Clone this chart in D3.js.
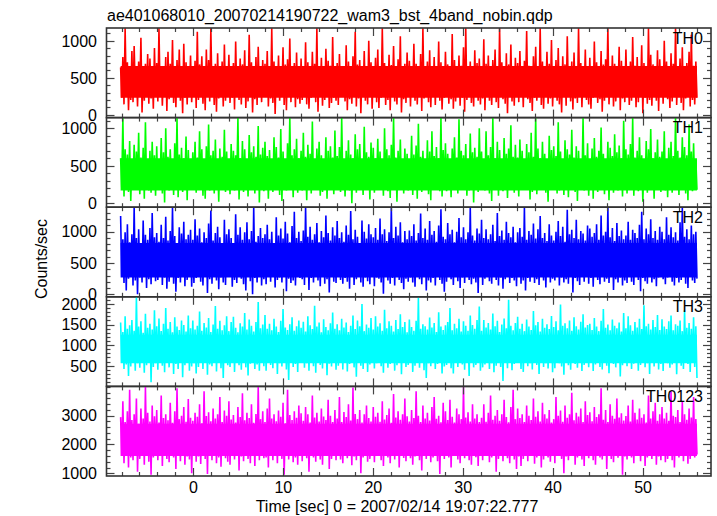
<!DOCTYPE html>
<html><head><meta charset="utf-8">
<script src="https://cdn.jsdelivr.net/npm/d3@7/dist/d3.min.js"></script>
<style>
html,body{margin:0;padding:0;background:#fff;}
svg{display:block;font-family:"Liberation Sans",Arial,sans-serif;}
</style></head>
<body><svg id="c" width="717" height="516"></svg>
<script>
const title = "ae401068010_20070214190722_wam3_bst_4band_nobin.qdp";
const xLabel = "Time [sec] 0 = 2007/02/14 19:07:22.777";
const yLabel = "Counts/sec";
const panelNames = ["TH0","TH1","TH2","TH3","TH0123"];
const panelColors = ["#ff0000","#00ff00","#0000ff","#00ffff","#ff00ff"];
const yDomains = [[-39,1172],[-52,1143],[-40,1391],[-3,2175],[906,4017]];
const yMajorTicks = [[0,500,1000],[0,500,1000],[0,500,1000],[500,1000,1500,2000],[1000,2000,3000]];
const yMinorStep = [100,100,100,100,200];
const xDomain = [-9.67,57.56];
const xMajorTicks = [0,10,20,30,40,50];
const xMinorStep = 2;
const tStart = -8.1, tEnd = 56.0;
// dense core of each light curve [low, high]
const coreBand = [[230,660],[170,600],[270,820],[560,1250],[1600,2720]];

// local peak (hi) and trough (lo) samples, alternating in time
const th0Hi = [640,780,1170,710,590,860,930,650,720,1040,580,690,820,760,610,900,
700,1170,640,560,780,850,690,1010,620,740,880,590,960,710,650,800,
570,730,1120,680,790,610,880,740,1170,600,690,830,560,720,950,640,
810,620,700,990,580,760,680,870,630,1080,710,590,780,920,650,740,
690,860,600,1170,720,640,800,570,910,680,750,1030,610,700,840,590,
760,640,980,710,580,850,690,1170,620,770,600,890,730,660,1050,580,
700,820,650,590,940,720,610,790,1120,680,740,570,860,630,1000,710,
600,770,880,640,1170,700,590,810,670,930,620,750,1060,580,690,840,
730,610,960,690,580,820,1170,650,720,870,600,780,640,990,710,560,
850,680,620,1090,740,590,800,660,910,1170,630,720,580,870,700,760,
620,1020,690,800,570,740,880,650,1170,710,600,830,680,950,590,770,
700,860,610,730,1130,660,580,790,920,640,1170,720,600,850,690,1010,
580,740,900,630,790,680,1060,600,720,840,570,1170,700,650,880,610,
770,640,990,710,590,860,680,750,1170,620,800,690,570,920,730,640,
880,600,720,1050,660,780,590,940,700,630,1170,810,680,600,870,750,
650,1000,720,590,830,690,1170,640,760,910,610,700,850,1080,660,720];
const th0Lo = [230,140,290,60,200,170,310,110,250,30,190,270,150,220,80,260,
180,300,120,240,50,210,280,160,100,260,190,20,230,140,290,170,
250,90,200,310,150,60,240,180,280,130,40,220,270,110,190,300,
160,230,70,260,200,140,300,90,180,250,30,210,130,280,170,240,
290,110,220,160,10,250,190,280,130,60,240,170,300,100,210,150,
200,260,140,80,230,300,170,40,250,120,200,280,90,160,230,190,
130,240,290,180,60,210,150,270,110,220,20,260,190,140,300,80,
250,170,90,230,280,130,200,60,260,180,140,290,30,210,160,240,
110,280,190,140,250,50,220,300,170,100,240,130,270,190,70,230,
290,150,210,80,180,260,120,230,40,200,280,160,110,250,190,140,
220,60,270,190,130,300,170,90,240,210,150,20,260,180,120,280,
170,240,100,280,210,160,50,230,190,270,130,80,300,150,220,110,
260,190,140,30,250,120,290,180,70,220,160,240,100,280,200,140,
80,230,270,160,210,40,190,300,140,250,110,180,270,60,220,170,
240,130,190,290,100,170,260,20,230,150,200,120,280,190,50,250,
150,270,210,90,180,240,130,290,160,60,220,270,110,200,140,230];

const th1Hi = [600,1140,720,650,830,560,780,690,940,610,740,1080,580,700,820,640,
760,590,870,680,1000,620,720,560,800,1140,650,740,600,890,710,570,
680,820,610,960,720,580,760,1050,640,700,850,590,730,620,980,690,
560,790,700,640,1140,600,830,720,580,910,680,760,620,1030,650,740,
820,630,710,570,880,750,610,990,690,580,800,1140,640,720,860,600,
700,940,620,780,660,1090,590,730,820,640,560,880,700,760,610,970,
630,750,1140,580,700,840,650,600,920,720,790,570,1020,680,620,810,
740,600,860,690,560,1000,720,640,780,1140,610,700,850,590,730,660,
580,900,650,770,1060,620,700,580,840,690,960,630,750,600,1140,710,
800,660,590,730,880,610,1120,700,640,790,570,930,680,740,620,1000,
690,580,960,640,750,1140,600,820,710,560,870,660,730,1040,620,780,
610,850,700,590,790,680,940,620,1140,730,600,820,660,570,900,710,
760,630,1080,690,580,840,720,650,980,610,760,700,590,1140,640,800,
580,730,870,620,700,1010,660,590,820,740,630,920,680,770,600,1100,
720,650,790,1140,610,700,880,640,570,830,720,990,600,680,850,620,
690,960,580,740,820,630,1140,700,610,880,750,640,1050,690,800,580];
const th1Lo = [210,90,260,150,30,230,180,280,120,200,60,250,170,140,270,100,
190,250,130,10,220,170,280,110,240,80,200,150,260,40,230,180,
270,140,200,250,100,60,230,170,290,130,210,20,180,260,150,220,
120,230,170,280,50,200,150,250,90,270,180,130,230,10,210,160,
250,60,220,150,270,190,110,30,240,170,260,200,80,230,140,280,
170,200,40,260,130,220,180,270,100,150,240,60,210,280,120,190,
230,150,270,90,210,170,0,250,140,200,280,110,180,230,50,260,
140,270,190,220,100,250,160,70,230,180,20,260,200,130,240,170,
280,110,230,60,190,150,270,210,120,40,250,180,230,160,90,200,
160,240,80,280,220,130,200,180,260,100,170,240,10,210,150,270,
210,170,250,130,30,230,190,100,280,160,220,70,240,180,140,260,
90,260,200,180,240,50,150,270,120,210,180,250,140,20,230,190,
250,130,170,270,110,220,80,240,190,150,30,260,200,170,280,100,
200,60,240,150,260,180,120,230,40,270,140,210,170,250,90,220,
130,280,190,100,230,160,250,20,200,140,270,180,60,240,190,150,
270,170,80,220,140,260,190,110,250,200,130,40,230,160,210,180];

const th2Hi = [1250,880,990,1120,830,960,1390,900,1040,820,1180,950,870,1060,1300,910,
980,840,1110,900,1240,860,1010,1390,930,820,1070,970,1160,880,950,1030,
870,1200,940,1050,830,990,900,1130,1340,860,980,1080,910,820,1190,960,
1040,900,820,1280,950,1070,870,990,1150,880,1010,1390,840,930,1060,900,
960,1110,880,1000,820,1230,940,1050,890,1160,970,830,1090,1320,900,1000,
850,1020,1390,920,1080,870,960,1140,830,1010,910,1260,980,860,1070,940,
1170,900,990,840,1100,950,1330,880,1030,920,820,1180,1000,890,1120,960,
910,1060,870,1210,960,1040,850,990,1390,900,1080,940,1150,830,1010,880,
1020,930,1120,860,980,1290,900,1050,870,1170,950,1010,840,1100,1360,920,
880,1140,960,1030,830,1000,1220,910,1070,880,990,1390,940,860,1050,970,
1190,900,1040,880,960,1110,850,1300,930,1020,870,1160,980,910,1080,830,
990,1060,920,1390,870,1010,950,1130,890,1040,1250,900,980,850,1120,940,
860,1000,1170,930,1080,840,1350,960,1030,900,1190,880,1010,970,860,1100,
1050,920,980,1120,870,1260,940,1000,1390,910,1060,850,1140,930,1020,880,
940,1160,870,1030,980,900,1110,1320,880,1050,960,1200,900,1010,870,1080,
1000,880,1230,950,1070,910,990,860,1150,1390,920,1040,880,1100,960,1000];
const th2Lo = [300,180,60,250,330,140,220,0,270,190,310,100,240,160,290,210,
230,320,150,270,90,200,300,170,40,260,190,310,130,230,280,120,
180,260,310,200,140,280,20,240,170,300,220,80,270,190,150,320,
290,120,230,180,310,250,160,60,280,210,0,260,190,300,140,240,
160,280,200,320,110,230,270,190,300,50,250,180,220,140,310,260,
240,150,290,70,260,190,310,220,130,280,170,240,30,300,200,180,
310,230,170,260,200,90,280,150,240,320,190,120,270,210,160,290,
130,270,250,190,10,300,220,170,260,140,310,230,180,80,250,200,
270,190,120,300,240,160,280,60,220,190,260,140,320,230,170,40,
200,310,240,150,280,210,100,270,180,300,230,160,250,190,20,280,
150,250,290,210,170,320,230,140,270,90,240,300,180,260,220,130,
290,170,220,60,260,200,310,180,240,150,280,220,110,300,190,250,
220,300,140,270,190,240,170,290,30,260,210,150,280,200,320,170,
260,120,310,230,160,280,200,250,180,300,70,240,190,270,140,220,
180,280,200,150,300,230,50,260,210,170,290,190,240,130,270,310,
240,160,270,300,200,140,260,190,230,280,170,100,300,220,180,250];

const th3Hi = [1550,1320,1700,1400,1480,1610,1350,2175,1450,1580,1300,1760,1420,1520,1380,1850,
1460,1650,1340,1520,1900,1400,1560,1310,1680,1450,1370,1600,1490,1330,1720,1410,
1600,1380,1470,1820,1350,1540,1430,1660,1320,1500,1950,1400,1590,1360,1480,1700,
1340,1560,1690,1420,1310,1530,1450,1780,1380,1620,1470,1330,1560,2050,1410,1500,
1730,1400,1520,1360,1640,1450,1320,1590,1880,1430,1370,1510,1680,1350,1460,1600,
1420,1570,1330,1700,1480,1390,1960,1450,1550,1310,1630,1440,1360,1530,1790,1400,
1510,1360,1640,1430,1550,1320,1470,1720,1390,1600,1460,2000,1340,1500,1420,1660,
1380,1700,1450,1530,1350,1860,1410,1580,1470,1330,1610,1390,1750,1440,1560,1310,
1620,1440,1350,1590,2150,1400,1510,1460,1380,1670,1430,1540,1320,1800,1450,1370,
1480,1560,1900,1360,1520,1410,1640,1330,1580,1470,1350,1720,1490,1400,1610,1940,
1350,1610,1430,1540,1380,1770,1460,1590,1320,1500,1650,1410,2100,1470,1360,1540,
1690,1400,1520,1340,1620,1450,1370,1830,1480,1560,1330,1640,1420,1510,1390,1710,
1440,1580,1360,1990,1470,1530,1410,1600,1350,1680,1460,1380,1570,1750,1430,1490,
1520,1370,1660,1450,1340,1590,1880,1420,1500,1360,1620,1470,1410,1550,1330,1780,
1410,1700,1480,1350,1560,1430,1640,1390,1970,1460,1520,1380,1610,1440,1730,1370,
1630,1450,1390,1580,1720,1360,1510,1470,1600,1340,1850,1420,1540,1400,1680,1460];
const th3Lo = [600,420,530,250,480,620,380,560,450,640,330,510,590,100,470,560,
400,610,500,340,570,460,640,300,540,420,590,220,510,630,380,480,
560,310,470,600,420,650,280,530,490,610,360,570,440,200,590,510,
470,580,350,620,510,400,640,460,260,550,600,420,530,380,610,490,
380,640,520,440,590,300,560,480,630,410,150,580,470,540,350,610,
620,450,560,380,640,490,330,600,520,430,610,270,550,480,590,400,
500,590,410,620,360,540,580,460,230,610,500,420,640,350,530,570,
430,560,620,490,330,600,450,540,610,380,510,640,290,580,470,520,
610,350,500,570,450,630,390,200,560,490,600,420,540,630,310,480,
520,600,440,310,590,470,640,530,400,570,250,610,460,520,590,380,
460,530,620,420,560,340,500,610,470,130,580,440,630,390,540,600,
580,420,350,600,490,560,410,630,520,300,610,470,560,430,640,340,
440,620,560,480,280,590,510,400,640,540,450,600,370,520,590,460,
600,370,530,620,470,410,580,500,320,610,540,460,630,240,510,570,
490,580,420,550,640,380,520,600,460,560,300,630,480,590,410,540,
370,610,560,450,530,620,290,580,500,420,610,540,350,600,470,200];

const th0123Hi = [2950,3500,2780,3150,3900,2850,3050,3600,2720,3250,2900,4000,3100,2800,3350,2980,
3200,2760,3700,2920,3050,2840,3450,2750,3150,3950,2880,3000,3300,2790,3580,2930,
2820,3100,2960,3400,2740,3850,2990,3120,2810,3250,2900,3050,3650,2780,3180,3000,
3500,2870,3020,2760,3300,2950,3780,2840,3100,2920,3400,2750,3060,4000,2880,3150,
2780,3250,3600,2900,3050,2810,3180,2960,3450,2740,3900,3020,2850,3150,2930,3350,
3080,2820,3300,3050,2760,3700,2940,3100,2800,3250,2970,2850,3550,3000,2780,3200,
2900,3650,2780,3130,2950,3400,2830,3980,3060,2880,3200,2760,3050,3350,2920,2800,
3300,2960,3100,2790,3500,2870,3020,3250,2750,3750,2940,3150,2860,3050,3600,2980,
2800,3200,2920,3850,3000,2780,3350,2900,3100,2830,3300,3650,2890,3000,2770,3450,
3150,2850,3550,2960,2760,3250,3050,2880,4000,2940,3120,2800,3400,2900,3050,2780,
2930,3400,2790,3100,3700,2860,3000,3200,2820,3050,3550,2950,2770,3300,3900,2880,
3250,2920,3050,2780,3350,3000,2850,3600,2960,3150,2800,3450,3050,2900,3200,2760,
2880,3650,3000,3180,2790,3350,2930,3050,3800,2840,3100,2970,3250,2780,3500,3020,
3120,2810,3300,2950,3050,3950,2860,3200,2780,3400,3000,2890,3600,2940,3080,2830,
2990,3350,2800,3550,3100,2870,3250,2930,3050,2760,3700,2900,3150,3450,2820,3050,
3300,2900,3100,2820,3850,3000,2950,3200,2780,3500,3050,2860,3250,2940,3650,2880];
const th0123Lo = [1600,1350,1700,1200,1550,1450,1750,1050,1500,1650,1300,1600,1400,950,1550,1680,
1450,1720,1250,1600,1500,1380,1700,1550,1150,1650,1420,1750,1300,1580,1480,1000,
1680,1400,1580,1320,1750,1500,980,1620,1450,1700,1350,1550,1230,1680,1520,1400,
1300,1650,1480,1720,1100,1580,1420,1700,1500,1350,1650,1250,1600,1450,1750,1520,
1550,1200,1680,1450,1600,1350,1720,1500,950,1620,1480,1700,1380,1550,1300,1650,
1420,1700,1520,1050,1650,1550,1400,1730,1480,1300,1600,1680,1150,1500,1620,1450,
1700,1480,1350,1620,1520,1720,1280,1580,1450,1680,1000,1550,1650,1400,1500,1600,
1380,1600,1700,1450,1250,1650,1550,1350,1720,1480,1600,1200,1680,1530,1420,1750,
1520,1300,1580,1680,1450,1100,1620,1500,1700,1380,1550,1650,1420,980,1600,1500,
1650,1550,1200,1600,1720,1480,1350,1680,1520,1620,1450,1300,1700,1560,1250,1600,
1450,1700,1600,1380,1550,1650,1050,1500,1720,1420,1600,1520,1350,1680,1480,1150,
1580,1250,1500,1700,1420,1600,1680,1330,1550,1720,1200,1480,1650,1550,1400,1700,
1350,1650,1720,1500,1000,1580,1450,1700,1620,1300,1550,1680,1480,1250,1600,1520,
1700,1450,1300,1620,1550,1480,1720,1150,1600,1500,1380,1650,1540,1700,950,1580,
1480,1600,1550,1350,1700,1620,1420,1680,1250,1550,1650,1500,1720,1300,1580,1450,
1620,1380,1500,1700,1450,1200,1650,1550,1720,1420,1600,1330,1500,1680,1550,1650];

const hiSeries = [th0Hi, th1Hi, th2Hi, th3Hi, th0123Hi];
const loSeries = [th0Lo, th1Lo, th2Lo, th3Lo, th0123Lo];

// layout
const L = 106.5, R = 711, T = 28, B = 476;
const nP = panelNames.length;
const pH = (B - T) / nP;
const svg = d3.select("#c");
const x = d3.scaleLinear().domain(xDomain).range([L, R]);
const defs = svg.append("defs");

const xMinor = d3.range(-8, 57, xMinorStep).filter(v => xMajorTicks.indexOf(v) < 0);

for (let p = 0; p < nP; p++) {
  const top = T + p * pH, bot = top + pH;
  const y = d3.scaleLinear().domain(yDomains[p]).range([bot, top]);
  const g = svg.append("g");
  defs.append("clipPath").attr("id", "clip" + p).append("rect")
    .attr("x", L).attr("y", top).attr("width", R - L).attr("height", pH);
  const dg = g.append("g").attr("clip-path", "url(#clip" + p + ")");

  const hi = hiSeries[p], lo = loSeries[p];
  const n = hi.length * 2;
  const dt = (tEnd - tStart) / (n - 1);
  const pts = [];
  for (let i = 0; i < hi.length; i++) {
    pts.push([tStart + (2 * i) * dt, hi[i]]);
    pts.push([tStart + (2 * i + 1) * dt, lo[i]]);
  }
  const col = panelColors[p];
  const area = d3.area().x(d => x(d)).y0(y(coreBand[p][0])).y1(y(coreBand[p][1]));
  dg.append("path").attr("d", area([tStart, tEnd])).attr("fill", col);
  const line = d3.line().x(d => x(d[0])).y(d => y(d[1]));
  dg.append("path").attr("d", line(pts)).attr("fill", "none")
    .attr("stroke", col).attr("stroke-width", 1.6).attr("stroke-linejoin", "bevel");

  // y ticks (left and right, inward)
  const yMin = Math.ceil(yDomains[p][0] / yMinorStep[p]) * yMinorStep[p];
  const yAll = d3.range(yMin, yDomains[p][1], yMinorStep[p]);
  yAll.forEach(v => {
    const major = yMajorTicks[p].indexOf(v) >= 0;
    const len = major ? 8 : 4;
    const yy = Math.round(y(v)) + 0.5;
    g.append("line").attr("x1", L).attr("x2", L + len).attr("y1", yy).attr("y2", yy)
      .attr("stroke", "#444").attr("stroke-width", 1.2);
    g.append("line").attr("x1", R - len).attr("x2", R).attr("y1", yy).attr("y2", yy)
      .attr("stroke", "#444").attr("stroke-width", 1.2);
  });
  yMajorTicks[p].forEach(v => {
    g.append("text").attr("x", 97).attr("y", y(v) + 5.8)
      .attr("text-anchor", "end").attr("font-size", 16).attr("fill", "#000").text(v);
  });
  // x ticks top and bottom
  xMajorTicks.concat(xMinor).forEach(v => {
    const major = xMajorTicks.indexOf(v) >= 0;
    const len = major ? 8 : 4;
    const xx = Math.round(x(v)) + 0.5;
    g.append("line").attr("x1", xx).attr("x2", xx).attr("y1", top).attr("y2", top + len)
      .attr("stroke", "#444").attr("stroke-width", 1.2);
    g.append("line").attr("x1", xx).attr("x2", xx).attr("y1", bot - len).attr("y2", bot)
      .attr("stroke", "#444").attr("stroke-width", 1.2);
  });
  // frame
  g.append("rect").attr("x", L).attr("y", top).attr("width", R - L).attr("height", pH)
    .attr("fill", "none").attr("stroke", "#333").attr("stroke-width", 1.6);
  // panel label
  g.append("text").attr("x", 703).attr("y", top + 15.5).attr("text-anchor", "end")
    .attr("font-size", 16).attr("fill", "#000").text(panelNames[p]);
}

// x tick labels
xMajorTicks.forEach(v => {
  svg.append("text").attr("x", x(v)).attr("y", 493).attr("text-anchor", "middle")
    .attr("font-size", 16).attr("fill", "#000").text(v);
});
svg.append("text").attr("x", 397).attr("y", 512).attr("text-anchor", "middle")
  .attr("font-size", 16).attr("fill", "#000").text(xLabel);
svg.append("text").attr("transform", "translate(47,259) rotate(-90)")
  .attr("text-anchor", "middle").attr("font-size", 16).attr("fill", "#000").text(yLabel);
svg.append("text").attr("x", 107).attr("y", 21).attr("font-size", 16)
  .attr("fill", "#000").text(title);
</script>
</body></html>
